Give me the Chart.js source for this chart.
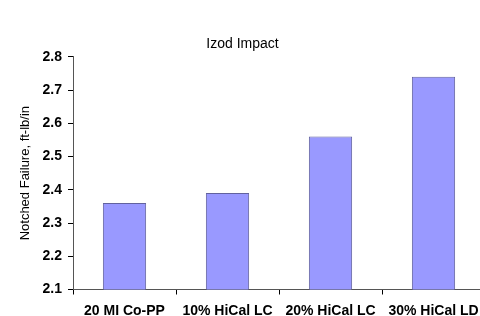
<!DOCTYPE html>
<html>
<head>
<meta charset="utf-8">
<script src="https://cdn.jsdelivr.net/npm/chart.js@4/dist/chart.umd.min.js"></script>
<style>
  html, body { margin: 0; padding: 0; background: #fff; overflow: hidden; width: 480px; height: 316px; }
  canvas { display: block; }
</style>
</head>
<body>
<canvas id="izodChart" width="490" height="316" style="width:490px;height:316px"></canvas>
<script>
// Chart data
const materials = ['20 MI Co-PP', '10% HiCal LC', '20% HiCal LC', '30% HiCal LD'];
const notchedFailure = [2.36, 2.39, 2.56, 2.74];
const yMin = 2.1;
const yMax = 2.8;
const yStep = 0.1;

const fontFamily = '"Liberation Sans", Arial, Helvetica, sans-serif';

const ctx = document.getElementById('izodChart').getContext('2d');
const izodChart = new Chart(ctx, {
    type: 'bar',
    data: {
        labels: materials,
        datasets: [{
            label: 'Notched Failure',
            data: notchedFailure,
            backgroundColor: '#9999ff',
            borderColor: '#62629e',
            borderWidth: 1,
            barPercentage: 1,
            categoryPercentage: 0.42
        }]
    },
    options: {
        responsive: false,
        animation: false,
        devicePixelRatio: 1,
        layout: { padding: { left: 0, right: 5, top: 0, bottom: 0 } },
        plugins: {
            legend: { display: false },
            tooltip: { enabled: false },
            title: {
                display: true,
                text: 'Izod Impact',
                color: '#000',
                font: { family: fontFamily, size: 14, weight: 'normal' },
                padding: { top: 36, bottom: 4 }
            }
        },
        scales: {
            x: {
                grid: {
                    display: true,
                    drawOnChartArea: false,
                    drawTicks: true,
                    tickLength: 5,
                    tickColor: '#000',
                    offset: true
                },
                border: { display: true, color: '#555', width: 1 },
                ticks: {
                    color: '#000',
                    padding: 8,
                    maxRotation: 0,
                    autoSkip: false,
                    font: { family: fontFamily, size: 14, weight: 'bold' }
                },
                afterFit: function(scale) { scale.height = 26.5; }
            },
            y: {
                min: yMin,
                max: yMax,
                grid: {
                    display: true,
                    drawOnChartArea: false,
                    drawTicks: true,
                    tickLength: 5,
                    tickColor: '#000'
                },
                border: { display: true, color: '#555', width: 1 },
                ticks: {
                    stepSize: yStep,
                    color: '#000',
                    padding: 6,
                    font: { family: fontFamily, size: 14, weight: 'bold' },
                    callback: function(value) { return Number(value).toFixed(1); }
                },
                title: {
                    display: true,
                    text: 'Notched Failure, ft-lb/in',
                    color: '#000',
                    font: { family: fontFamily, size: 13, weight: 'normal' },
                    padding: { top: 18, bottom: 0 }
                },
                afterFit: function(scale) { scale.width = 73; }
            }
        }
    }
});
</script>
</body>
</html>
